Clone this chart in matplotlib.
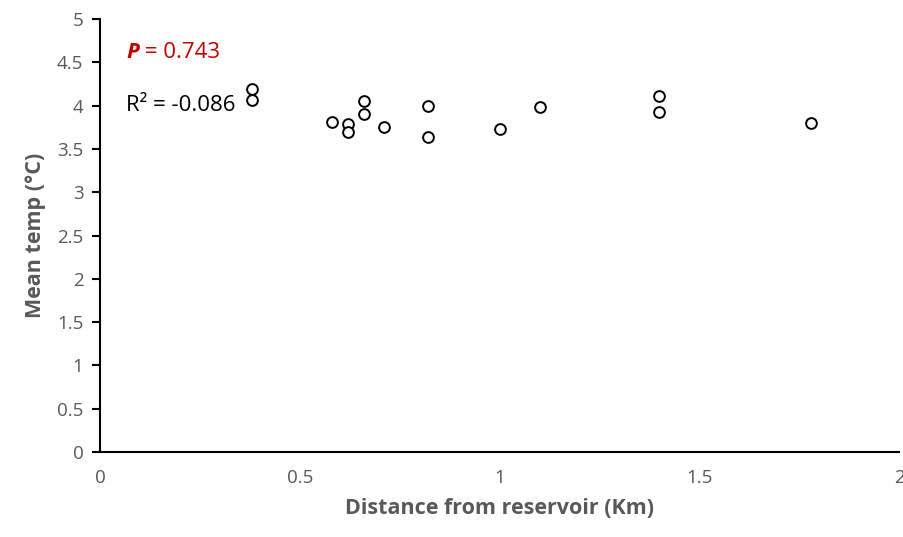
import matplotlib
matplotlib.use('Agg')
import matplotlib.pyplot as plt

# distance from reservoir (km) and mean temperature (deg C)
distance = [0.38, 0.38, 0.58, 0.62, 0.62, 0.66, 0.66, 0.71, 0.82, 0.82, 1.0, 1.1, 1.4, 1.4, 1.78]
mean_temp = [4.19, 4.07, 3.81, 3.79, 3.70, 4.06, 3.91, 3.76, 4.00, 3.64, 3.73, 3.98, 4.11, 3.93, 3.80]

x_ticks = [0, 0.5, 1, 1.5, 2]
y_ticks = [0, 0.5, 1, 1.5, 2, 2.5, 3, 3.5, 4, 4.5, 5]

plt.rcParams['font.family'] = ['Open Sans', 'DejaVu Sans']
grey = '#595959'
red = '#c00000'

fig = plt.figure(figsize=(9.04, 5.37), dpi=100)
ax = fig.add_axes([0.1106, 0.1583, 0.884, 0.806])

ax.scatter(distance, mean_temp, s=60, facecolors='white', edgecolors='black',
           linewidths=1.4, zorder=3)

ax.set_xlim(0, 2)
ax.set_ylim(0, 5)
ax.set_xticks(x_ticks)
ax.set_xticklabels([f'{t:g}' for t in x_ticks])
ax.set_yticks(y_ticks)
ax.set_yticklabels([f'{t:g}' for t in y_ticks])

for s in ['top', 'right']:
    ax.spines[s].set_visible(False)
for s in ['left', 'bottom']:
    ax.spines[s].set_linewidth(1.5)
    ax.spines[s].set_color('black')

ax.tick_params(axis='x', length=0, pad=12, labelsize=13.5, labelcolor=grey)
ax.tick_params(axis='y', length=6, width=1.5, pad=6, labelsize=13.5, labelcolor=grey)

ax.set_xlabel('Distance from reservoir (Km)', fontsize=15.5, fontweight='bold',
              color=grey, labelpad=8)
ax.set_ylabel('Mean temp (°C)', fontsize=15.5, fontweight='bold', color=grey,
              labelpad=8)

# P value: bold italic P followed by the rest of the text
p_txt = ax.text(0.065, 4.62, 'P', color=red, fontsize=16, fontweight='bold',
                fontstyle='italic', va='center')
ax.annotate(' = 0.743', xy=(1, 0.5), xycoords=p_txt, va='center', ha='left',
            color=red, fontsize=16)
ax.text(0.065, 4.0, 'R² = -0.086', color='black', fontsize=16, va='center')

fig.savefig('out.png', dpi=100)
